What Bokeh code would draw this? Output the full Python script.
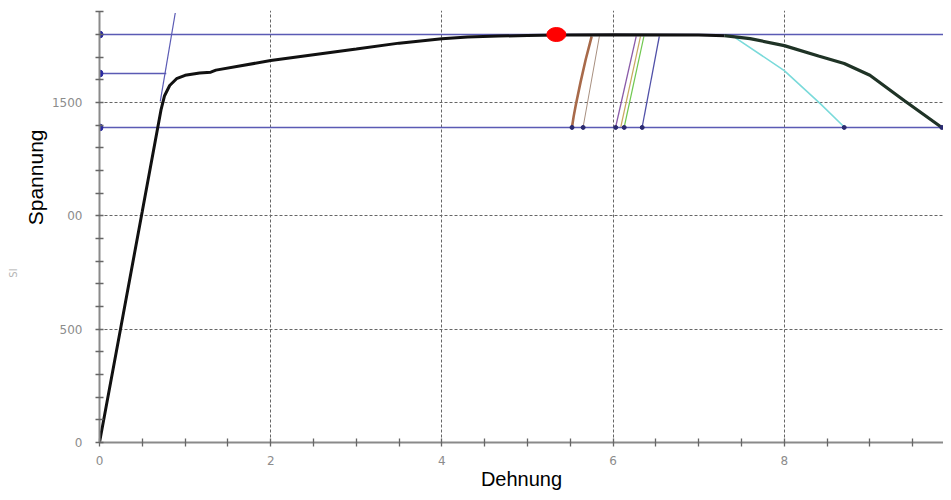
from bokeh.plotting import figure
from bokeh.models import Range1d, FixedTicker, Title
from bokeh.embed import file_html
from bokeh.resources import INLINE

# ---------------- data ----------------
x_ticks = [0, 2, 4, 6, 8]
x_minor = [0.5, 1, 1.5, 2.5, 3, 3.5, 4.5, 5, 5.5, 6.5, 7, 7.5, 8.5, 9, 9.5]
y_ticks = [0, 500, 1000, 1500]
y_tick_labels = ["0", "500", "00", "1500"]
y_minor = [100, 200, 300, 400, 600, 700, 800, 900, 1100, 1200, 1300, 1400,
           1600, 1700, 1800, 1900]

# main stress-strain curve (rising part)
curve_x = [0, 0.25, 0.5, 0.72, 0.76, 0.82, 0.9, 1.0, 1.17, 1.3, 1.36, 2.0, 3.0,
           3.5, 4.0, 4.3, 4.66, 5.0, 5.34, 6.0, 7.0, 7.3]
curve_y = [0, 510, 1020, 1470, 1530, 1575, 1605, 1620, 1630, 1634, 1643, 1685, 1736,
           1762, 1781, 1789, 1793, 1796, 1798, 1799, 1798, 1795]
# descending part of the curve
drop_x = [7.3, 7.6, 8.0, 8.4, 8.7, 9.0, 9.4, 9.84]
drop_y = [1795, 1782, 1751, 1705, 1672, 1620, 1509, 1390]

# reference levels
level_y = [1800, 1628, 1390]
level_x_end = [9.9, 0.78, 9.84]

# offset (tangent) line
tangent_x = [0.71, 0.885]
tangent_y = [1505, 1895]

# unloading branches
unload_xs = [
    [5.75, 5.68, 5.62, 5.565, 5.54, 5.52],
    [5.84, 5.65],
    [6.27, 6.03],
    [6.32, 6.09],
    [6.36, 6.13],
    [6.54, 6.34],
]
unload_ys = [
    [1792, 1690, 1590, 1490, 1440, 1392],
    [1792, 1392],
    [1792, 1392],
    [1792, 1392],
    [1792, 1392],
    [1792, 1392],
]
unload_colors = ["#a86a4a", "#a89080", "#8a5aa8", "#c8a860", "#70c850", "#5050a8"]
unload_widths = [2.6, 1.0, 1.3, 1.2, 1.2, 1.3]

cyan_x = [7.43, 8.0, 8.42, 8.7]
cyan_y = [1785, 1641, 1495, 1392]

end_x = [5.52, 5.65, 6.03, 6.13, 6.34, 8.7, 9.84]
end_y = [1390, 1390, 1390, 1390, 1390, 1390, 1390]

peak_x = [5.337]
peak_y = [1800]

# ---------------- figure ----------------
p = figure(width=943, height=492, output_backend="svg", toolbar_location=None,
           x_range=Range1d(0, 9.86), y_range=Range1d(0, 1906),
           min_border_left=99, min_border_right=0, min_border_top=10,
           min_border_bottom=50)
p.outline_line_color = None
p.background_fill_color = "white"
p.border_fill_color = "white"

for ax in (p.xaxis[0], p.yaxis[0]):
    ax.axis_line_color = "#8a8a8a"
    ax.axis_line_width = 2
    ax.major_tick_line_color = "#666666"
    ax.minor_tick_line_color = "#666666"
    ax.major_tick_in = 4
    ax.major_tick_out = 4
    ax.minor_tick_in = 4
    ax.minor_tick_out = 4
    ax.major_tick_line_width = 1.3
    ax.minor_tick_line_width = 1.3
    ax.major_label_text_color = "#8c8c8c"
    ax.major_label_text_font = "DejaVu Sans"
    ax.major_label_text_font_size = "12px"

p.xaxis.ticker = FixedTicker(ticks=x_ticks, minor_ticks=x_minor)
p.yaxis.ticker = FixedTicker(ticks=y_ticks, minor_ticks=y_minor)
p.yaxis.major_label_overrides = {t: l for t, l in zip(y_ticks, y_tick_labels)}
p.xaxis.major_label_standoff = 9
p.yaxis.major_label_standoff = 13
p.yaxis.bounds = (0, 1900)

# x axis title
p.xaxis.axis_label = "Dehnung"
p.xaxis.axis_label_text_font = "Liberation Sans"
p.xaxis.axis_label_text_font_size = "20px"
p.xaxis.axis_label_text_font_style = "normal"
p.xaxis.axis_label_text_color = "#000000"
p.xaxis.axis_label_standoff = 0

p.xgrid.ticker = FixedTicker(ticks=x_ticks)
p.ygrid.ticker = FixedTicker(ticks=y_ticks)
for g in (p.xgrid[0], p.ygrid[0]):
    g.grid_line_color = "#666666"
    g.grid_line_dash = "3 2"
    g.grid_line_width = 1

# reference levels
for yl, xe in zip(level_y, level_x_end):
    p.line([0, xe], [yl, yl], line_color="#5a5ab4", line_width=1.4)
p.scatter([0] * len(level_y), level_y, size=7, color="#2a2aa0")

# tangent line
p.line(tangent_x, tangent_y, line_color="#5a5ab4", line_width=1.2)

# unloading branches
p.multi_line(unload_xs, unload_ys, line_color=unload_colors, line_width=unload_widths)
p.line(cyan_x, cyan_y, line_color="#7adada", line_width=1.6)

# main curve
p.line(curve_x, curve_y, line_color="#111111", line_width=3)
p.line(drop_x, drop_y, line_color="#1f3326", line_width=3.2)

p.scatter(end_x, end_y, size=4, color="#2a2a70")

# peak marker
p.ellipse(peak_x, peak_y, width=19, height=14, width_units="screen",
          height_units="screen", fill_color="#ff0000", line_color="#ff0000")

# y axis title as a side-panel title
p.add_layout(Title(text="Spannung", align="right", offset=119,
                   text_font="Liberation Sans", text_font_size="21px",
                   text_font_style="normal", text_color="#000000",
                   standoff=4), "left")
# faint remnant text further left
p.add_layout(Title(text="Sl", align="right", offset=258,
                   text_font="DejaVu Sans", text_font_size="10px",
                   text_font_style="normal", text_color="#b4b4b4",
                   standoff=2), "left")

open("out.html", "w").write(file_html(p, INLINE))
